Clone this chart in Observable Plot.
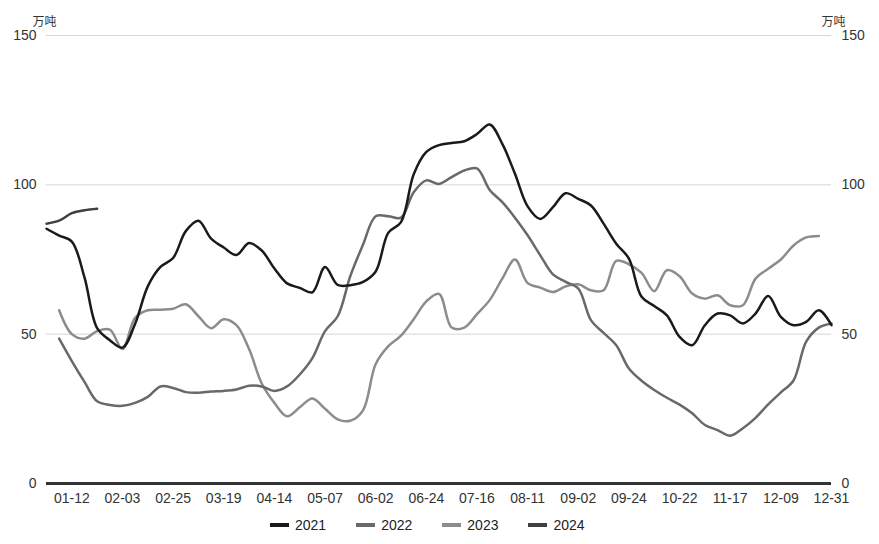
<!DOCTYPE html>
<html><head><meta charset="utf-8">
<script src="https://cdn.jsdelivr.net/npm/d3@7"></script>
<script src="https://cdn.jsdelivr.net/npm/@observablehq/plot@0.6"></script>
<style>
body{margin:0;background:#fff;font-family:"Liberation Sans",Arial,"Noto Sans CJK SC",sans-serif;}
#wrap{position:relative;width:879px;height:544px;}
#legend{position:absolute;left:0;top:510px;height:30px;display:flex;align-items:center;padding-left:270px;font-size:14px;color:#222;}
.item{display:flex;align-items:center;margin-right:30px;}
.sw{width:19px;height:4px;margin-right:6px;}
</style></head>
<body><div id="wrap"><div id="chart"></div><div id="legend"></div></div>
<script>
const series = ["2021","2022","2023","2024"];
const colors = ["#1a1a1a","#696969","#8c8c8c","#3f3f3f"];
const tickLabels = ["01-12","02-03","02-25","03-19","04-14","05-07","06-02","06-24","07-16","08-11","09-02","09-24","10-22","11-17","12-09","12-31"];
const tickPos = [2,6,10,14,18,22,26,30,34,38,42,46,50,54,58,62];
const yTicks = [0,50,100,150];
const unit = "万吨";

const v2021 = [85.3,83,81,69,52,48,45.5,53.5,66,72.5,75.5,84.5,88,82,79,76.5,80.5,78,72,67,65.5,64,72.5,66.5,66.4,67.5,71,84,87.5,103.5,111,113.3,114,114.6,117,120.2,113.7,103.7,92.8,88.6,92.5,97.2,95.3,93.1,87,80.3,75.3,62.5,59.4,56.3,49.1,46.3,53,56.9,56.3,53.6,56.9,62.8,55.8,53,54.1,58,53];
const v2022 = [null,48.5,41,34,27.5,26.3,26,27,29,32.5,32,30.6,30.4,30.8,31,31.5,32.7,32.5,31,32.5,36.5,42,51,56,69.5,80,89.5,89.5,89,97.5,101.5,100.3,102.6,104.8,105.5,98.3,94.2,89,83.1,76.4,70,67.5,65.3,54.7,50.4,46.3,38.5,34.4,31.3,28.7,26.4,23.5,19.6,17.9,16,18.5,22,26.5,30.5,34.5,47.5,52.2,53.6];
const v2023 = [null,58,50,48.5,51,51.5,45,55.5,58,58.2,58.5,60,56,52,55,53,45,33.5,27,22.5,25.5,28.5,25,21.5,21,24.5,40,46,49.5,55,61,63.5,52.2,52.2,56.7,61.4,68.6,75,67.1,65.6,64.1,66,66.7,64.7,64.7,74.5,73.4,70.5,64.4,71.4,69.4,63.6,61.9,63,59.7,59.7,68.6,71.9,75,79.7,82.4,82.9];
const v2024 = [87,88,90.5,91.5,92];

const valuesBySeries = {"2021":v2021,"2022":v2022,"2023":v2023,"2024":v2024};
const drawOrder = ["2023","2022","2024","2021"];
const rows = [];
for (const s of drawOrder) valuesBySeries[s].forEach((v,i)=>{ if(v!=null) rows.push({x:i,y:v,s}); });

const chart = Plot.plot({
  width: 879, height: 510,
  marginTop: 35, marginBottom: 27, marginLeft: 46, marginRight: 48,
  style: {fontSize:"14px", fontFamily:'"Liberation Sans",Arial,"Noto Sans CJK SC",sans-serif', color:"#333", background:"#fff"},
  x: {domain:[0,62]},
  y: {domain:[0,150]},
  color: {domain: series, range: colors},
  marks: [
    Plot.gridY({ticks:[50,100,150], stroke:"#d6d6d6", strokeOpacity:1, strokeWidth:1}),
    Plot.axisY({anchor:"left", ticks:yTicks, tickSize:0, tickPadding:10, label:null}),
    Plot.axisY({anchor:"right", ticks:yTicks, tickSize:0, tickPadding:10, label:null}),
    Plot.axisX({ticks:tickPos, tickFormat:d=>tickLabels[tickPos.indexOf(d)], tickSize:0, tickPadding:10, label:null}),
    Plot.text([unit], {frameAnchor:"top-left", text:d=>d, dx:-14, dy:-18, textAnchor:"start", fontSize:12, fill:"#333"}),
    Plot.text([unit], {frameAnchor:"top-right", text:d=>d, dx:14, dy:-18, textAnchor:"end", fontSize:12, fill:"#333"}),
    Plot.line(rows, {x:"x", y:"y", z:"s", stroke:"s", curve:"catmull-rom", strokeWidth:2.5}),
    Plot.ruleY([0], {stroke:"#333", strokeWidth:3})
  ]
});
document.getElementById("chart").appendChild(chart);

const legend = document.getElementById("legend");
series.forEach((s,i)=>{
  const it = document.createElement("div"); it.className="item";
  const sw = document.createElement("span"); sw.className="sw"; sw.style.background=colors[i];
  const tx = document.createElement("span"); tx.textContent=s;
  it.appendChild(sw); it.appendChild(tx); legend.appendChild(it);
});
</script>
</body></html>
